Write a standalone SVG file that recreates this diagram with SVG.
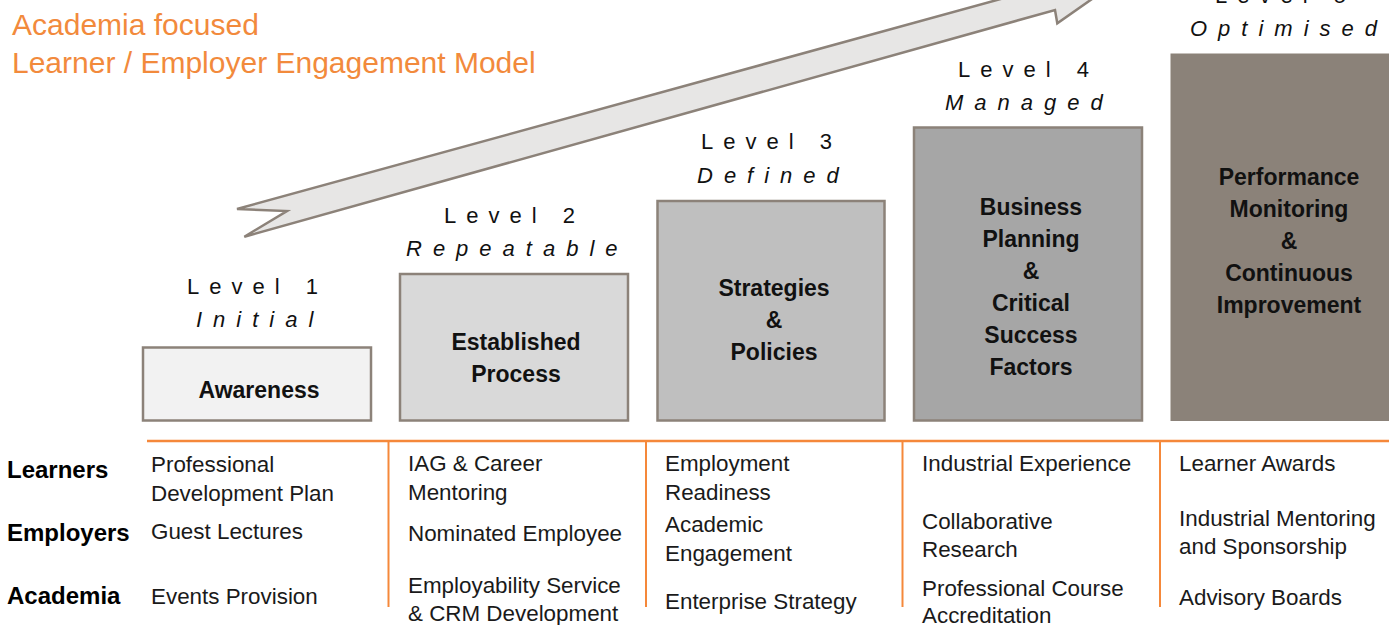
<svg xmlns="http://www.w3.org/2000/svg" width="1389" height="625" viewBox="0 0 1389 625">
<style>
.title{font-family:"Liberation Sans",Arial,sans-serif;font-size:30px;fill:#F28A3C}
.lvl{font-family:"Liberation Sans",Arial,sans-serif;font-size:22px;fill:#111;letter-spacing:10px}
.lvli{font-family:"Liberation Sans",Arial,sans-serif;font-size:22px;font-style:italic;fill:#111;letter-spacing:11px}
.box{stroke:#8C8279;stroke-width:2.5}
.bt{font-family:"Liberation Sans",Arial,sans-serif;font-size:23px;font-weight:bold;fill:#111;text-anchor:middle}
.rl{font-family:"Liberation Sans",Arial,sans-serif;font-size:24px;font-weight:bold;fill:#000}
.ct{font-family:"Liberation Sans",Arial,sans-serif;font-size:22.4px;fill:#1a1a1a}
.grid{stroke:#F5883A;fill:none}
</style>
<rect width="1389" height="625" fill="#ffffff"/>
<g id="title">
<text class="title" x="12" y="35">Academia focused</text>
<text class="title" x="12" y="73">Learner / Employer Engagement Model</text>
</g>
<g id="connectors">
<polygon points="237,209 1048.3,-14.1 1044.7,-27.1 1121,-21.3 1057.3,23.3 1055,10 244.3,236.7 287,211" fill="#E7E6E5" stroke="#8C8279" stroke-width="2.5" stroke-linejoin="miter"/>
</g>
<g id="level1">
<text class="lvl" x="187" y="294">Level 1</text>
<text class="lvli" x="196" y="327">Initial</text>
<rect class="box" x="143" y="347.5" width="228" height="73" fill="#F2F2F2"/>
<text class="bt" x="259" y="398">Awareness</text>
</g>
<g id="level2">
<text class="lvl" x="444" y="223">Level 2</text>
<text class="lvli" x="406" y="256">Repeatable</text>
<rect class="box" x="400" y="274" width="228" height="146.5" fill="#D9D9D9"/>
<text class="bt" x="516" y="350">Established</text>
<text class="bt" x="516" y="382">Process</text>
</g>
<g id="level3">
<text class="lvl" x="701" y="149">Level 3</text>
<text class="lvli" x="697" y="183">Defined</text>
<rect class="box" x="657.5" y="201" width="227" height="219.5" fill="#BFBFBF"/>
<text class="bt" x="774" y="296">Strategies</text>
<text class="bt" x="774" y="328">&amp;</text>
<text class="bt" x="774" y="360">Policies</text>
</g>
<g id="level4">
<text class="lvl" x="958" y="77">Level 4</text>
<text class="lvli" x="945" y="110">Managed</text>
<rect class="box" x="914" y="127.5" width="228" height="293" fill="#A6A6A6"/>
<text class="bt" x="1031" y="215">Business</text>
<text class="bt" x="1031" y="247">Planning</text>
<text class="bt" x="1031" y="279">&amp;</text>
<text class="bt" x="1031" y="311">Critical</text>
<text class="bt" x="1031" y="343">Success</text>
<text class="bt" x="1031" y="375">Factors</text>
</g>
<g id="level5">
<text class="lvl" x="1215" y="3">Level 5</text>
<text class="lvli" x="1190" y="36">Optimised</text>
<rect x="1171" y="54" width="230" height="366.5" fill="#8B8279" stroke="#8B8279" stroke-width="1"/>
<text class="bt" x="1289" y="185">Performance</text>
<text class="bt" x="1289" y="217">Monitoring</text>
<text class="bt" x="1289" y="249">&amp;</text>
<text class="bt" x="1289" y="281">Continuous</text>
<text class="bt" x="1289" y="313">Improvement</text>
</g>
<g id="grid">
<line class="grid" x1="147" y1="441" x2="1389" y2="441" stroke-width="2.5"/>
<line class="grid" x1="388.5" y1="441" x2="388.5" y2="607" stroke-width="2"/>
<line class="grid" x1="646" y1="441" x2="646" y2="607" stroke-width="2"/>
<line class="grid" x1="902.5" y1="441" x2="902.5" y2="607" stroke-width="2"/>
<line class="grid" x1="1160" y1="441" x2="1160" y2="607" stroke-width="2"/>
</g>
<g id="row-labels">
<text class="rl" x="7" y="478">Learners</text>
<text class="rl" x="7" y="541">Employers</text>
<text class="rl" x="7" y="604">Academia</text>
</g>
<g id="col1">
<text class="ct" x="151" y="472">Professional</text>
<text class="ct" x="151" y="501">Development Plan</text>
<text class="ct" x="151" y="539">Guest Lectures</text>
<text class="ct" x="151" y="604">Events Provision</text>
</g>
<g id="col2">
<text class="ct" x="408" y="471">IAG &amp; Career</text>
<text class="ct" x="408" y="500">Mentoring</text>
<text class="ct" x="408" y="541">Nominated Employee</text>
<text class="ct" x="408" y="593">Employability Service</text>
<text class="ct" x="408" y="621">&amp; CRM Development</text>
</g>
<g id="col3">
<text class="ct" x="665" y="471">Employment</text>
<text class="ct" x="665" y="500">Readiness</text>
<text class="ct" x="665" y="532">Academic</text>
<text class="ct" x="665" y="561">Engagement</text>
<text class="ct" x="665" y="609">Enterprise Strategy</text>
</g>
<g id="col4">
<text class="ct" x="922" y="471">Industrial Experience</text>
<text class="ct" x="922" y="529">Collaborative</text>
<text class="ct" x="922" y="557">Research</text>
<text class="ct" x="922" y="596">Professional Course</text>
<text class="ct" x="922" y="623">Accreditation</text>
</g>
<g id="col5">
<text class="ct" x="1179" y="471">Learner Awards</text>
<text class="ct" x="1179" y="526">Industrial Mentoring</text>
<text class="ct" x="1179" y="554">and Sponsorship</text>
<text class="ct" x="1179" y="605">Advisory Boards</text>
</g>
</svg>
